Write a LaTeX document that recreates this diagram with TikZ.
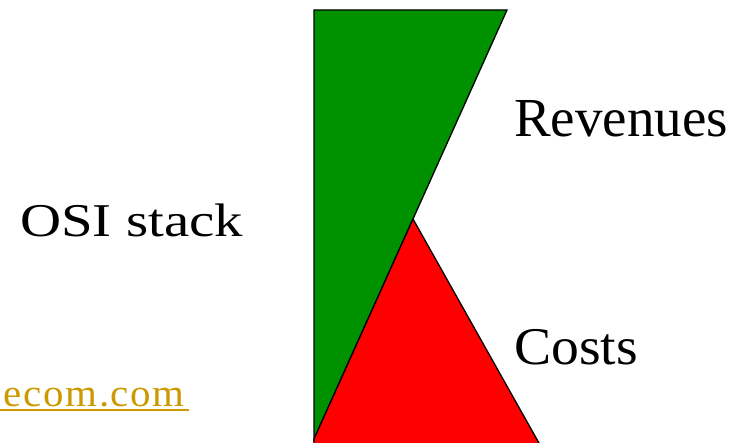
\documentclass[tikz,border=0pt]{standalone}
\usepackage{fontspec}
\setmainfont{Liberation Serif}
\usetikzlibrary{calc}
\definecolor{revgreen}{RGB}{0,145,0}
\definecolor{costred}{RGB}{255,0,0}
\definecolor{linkgold}{RGB}{204,153,0}
\tikzset{
  label text/.style={inner sep=0pt, anchor=base west},
  wedge/.style={draw=black, line width=1.3pt, line join=miter}
}
\begin{document}
\begin{tikzpicture}[x=1pt,y=-1pt]
\useasboundingbox (0,0) rectangle (744,443);
\clip (0,0) rectangle (744,443);
% revenue wedge
\filldraw[wedge, fill=revgreen] (314,10) -- (507,10) -- (314,439) -- cycle;
% cost wedge on top
\filldraw[wedge, fill=costred] (413,219) -- (314,439) -- (314,452) -- (544,452) -- cycle;
% labels
\node[label text, font=\fontsize{55}{55}\selectfont] (rev) at (514,137) {Revenues};
\node[label text, xscale=1.05, font=\fontsize{53}{53}\selectfont] (cost) at (514,364) {Costs};
\node[label text, xscale=1.21, font=\fontsize{47}{47}\selectfont] (osi) at (20,237) {OSI stack};
\node[inner sep=0pt, anchor=base east, xscale=1.05, text=linkgold,
      font=\fontsize{39}{39}\selectfont\addfontfeature{LetterSpace=4}] (link) at (185,406) {ecom.com};
\draw[linkgold, line width=2.7pt] ($(link.base east)+(4,4)$) -- ($(link.base west)+(-20,4)$);
\end{tikzpicture}
\end{document}
